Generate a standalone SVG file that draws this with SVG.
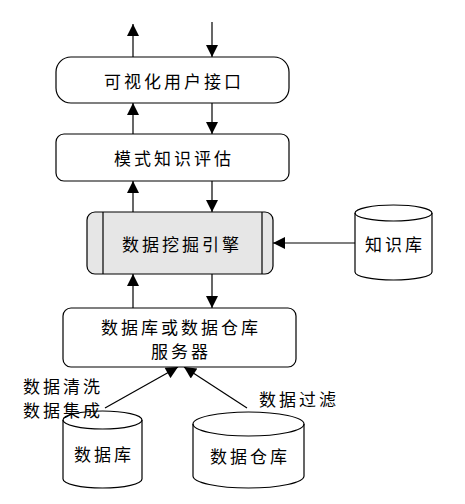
<svg xmlns="http://www.w3.org/2000/svg" width="465" height="504" viewBox="0 0 465 504">
<style>
.box{fill:#fff;stroke:#000;stroke-width:1.2}
.t{font-family:"Noto Sans CJK SC","Noto Sans",sans-serif;font-size:17px;letter-spacing:3px;fill:#000;text-anchor:middle;dominant-baseline:central}
.l{stroke:#000;stroke-width:1.2;fill:none}
</style>
<defs>
<marker id="ah" viewBox="0 0 10 10" refX="10" refY="5" markerWidth="10" markerHeight="10" markerUnits="userSpaceOnUse" orient="auto">
<path d="M0,0 L10,5 L0,10 Z" fill="#000"/>
</marker>
<marker id="ah2" viewBox="0 0 10 10" refX="10" refY="5" markerWidth="14" markerHeight="12" markerUnits="userSpaceOnUse" orient="auto">
<path d="M0,0 L10,5 L0,10 Z" fill="#000"/>
</marker>
</defs>
<g id="connectors">
<line class="l" x1="133" y1="57" x2="133" y2="24" marker-end="url(#ah2)"/>
<line class="l" x1="212" y1="22" x2="212" y2="57" marker-end="url(#ah2)"/>
<line class="l" x1="133" y1="134" x2="133" y2="103" marker-end="url(#ah2)"/>
<line class="l" x1="212" y1="103" x2="212" y2="134" marker-end="url(#ah2)"/>
<line class="l" x1="133" y1="212" x2="133" y2="181" marker-end="url(#ah2)"/>
<line class="l" x1="212" y1="181" x2="212" y2="212" marker-end="url(#ah2)"/>
<line class="l" x1="133" y1="308" x2="133" y2="274" marker-end="url(#ah2)"/>
<line class="l" x1="212" y1="274" x2="212" y2="308" marker-end="url(#ah2)"/>
<line class="l" x1="355" y1="243" x2="273" y2="243" marker-end="url(#ah2)"/>
<line class="l" x1="105" y1="408" x2="178" y2="367" marker-end="url(#ah2)"/>
<line class="l" x1="247" y1="408" x2="184" y2="367" marker-end="url(#ah2)"/>
</g>
<g id="ui">
<rect class="box" x="56" y="57" width="233" height="46" rx="15"/>
<text class="t" x="174" y="80">可视化用户接口</text>
</g>
<g id="eval">
<rect class="box" x="56" y="134" width="233" height="47" rx="8"/>
<text class="t" x="174" y="157">模式知识评估</text>
</g>
<g id="engine">
<rect x="87" y="212" width="186" height="62" rx="8" fill="#e6e6e6" stroke="#000" stroke-width="1.2"/>
<line class="l" x1="103" y1="212" x2="103" y2="274"/>
<line class="l" x1="262" y1="212" x2="262" y2="274"/>
<text class="t" x="182" y="243">数据挖掘引擎</text>
</g>
<g id="kb">
<path class="box" d="M355,213 A38.5,8 0 0 1 432,213 L432,272 A38.5,8 0 0 1 355,272 Z"/>
<path class="l" d="M355,213 A38.5,8 0 0 0 432,213"/>
<text class="t" x="395" y="243">知识库</text>
</g>
<g id="server">
<rect class="box" x="63" y="308" width="233" height="59" rx="8"/>
<text class="t" x="181" y="326">数据库或数据仓库</text>
<text class="t" x="181" y="350">服务器</text>
</g>
<g id="db">
<path class="box" d="M63,420 A39.5,9 0 0 1 142,420 L142,479 A39.5,9 0 0 1 63,479 Z"/>
<path class="l" d="M63,420 A39.5,9 0 0 0 142,420"/>
<text class="t" x="104" y="453">数据库</text>
</g>
<g id="dw">
<path class="box" d="M193,424 A55.5,12 0 0 1 304,424 L304,476 A55.5,12 0 0 1 193,476 Z"/>
<path class="l" d="M193,424 A55.5,12 0 0 0 304,424"/>
<text class="t" x="250" y="455">数据仓库</text>
</g>
<g id="labels">
<text class="t" x="63" y="385">数据清洗</text>
<text class="t" x="63" y="409">数据集成</text>
<text class="t" x="299" y="398">数据过滤</text>
</g>
</svg>
